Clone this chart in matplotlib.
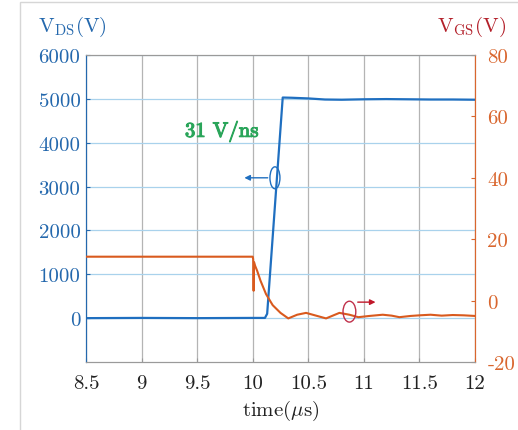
"""Recreate the V_DS / V_GS switching transient figure."""

import matplotlib

matplotlib.use("Agg")
import matplotlib.pyplot as plt
import matplotlib.patheffects as pe
from matplotlib.patches import Ellipse, Rectangle

plt.rcParams["mathtext.fontset"] = "cm"
plt.rcParams["font.family"] = ["cmr10", "DejaVu Serif"]
plt.rcParams["axes.unicode_minus"] = False
plt.rcParams["axes.formatter.use_mathtext"] = True

# V_DS trace (time in us, volts)
t_vds = [8.5, 9.0, 9.5, 10.0, 10.11, 10.13, 10.27, 10.35, 10.5, 10.65, 10.8,
         11.0, 11.2, 11.4, 11.6, 11.8, 12.0]
vds = [0, 5, 0, 5, 5, 100, 5030, 5025, 5010, 4985, 4980,
       4990, 4995, 4990, 4985, 4985, 4980]

# V_GS trace (time in us, volts)
t_vgs = [8.5, 9.0, 9.5, 10.0, 10.004, 10.008, 10.012, 10.02, 10.04, 10.07,
         10.12, 10.18, 10.25, 10.32, 10.4, 10.48, 10.57, 10.66, 10.72, 10.78,
         10.87, 10.95, 11.05, 11.17, 11.25, 11.32, 11.42, 11.5, 11.6, 11.7,
         11.8, 11.9, 12.0]
vgs = [14.3, 14.3, 14.3, 14.3, 13.5, 3.2, 12.5, 11.5, 9.7, 6.5,
       2.1, -1.5, -4.0, -5.8, -4.6, -4.0, -4.9, -5.8, -4.9, -4.0,
       -4.6, -5.4, -5.0, -4.6, -4.9, -5.4, -5.0, -4.8, -4.6, -4.9,
       -4.7, -4.8, -5.0]

x_ticks = [8.5, 9, 9.5, 10, 10.5, 11, 11.5, 12]
x_labels = ["8.5", "9", "9.5", "10", "10.5", "11", "11.5", "12"]
left_ticks = [0, 1000, 2000, 3000, 4000, 5000, 6000]
right_ticks = [-20, 0, 20, 40, 60, 80]

BLUE = "#1f6fc0"
ORANGE = "#d95a1e"
BLUE_TXT = "#2468ad"
ORANGE_TXT = "#d9662e"
DARKRED = "#b3202a"
GREEN = "#2aa55a"

fig = plt.figure(figsize=(5.18, 4.31), dpi=100)
fig.add_artist(Rectangle((20 / 518, -0.05), 1.1, 0.05 + (431 - 3) / 431,
                         transform=fig.transFigure, fill=False,
                         edgecolor="#d6d6d6", lw=1.0))

ax = fig.add_axes([86 / 518, (431 - 363) / 431, 389 / 518, 307 / 431])
ax2 = ax.twinx()

ax.set_xlim(8.5, 12)
ax.set_ylim(-1000, 6000)
ax2.set_ylim(-20, 80)

for x in x_ticks:
    ax.axvline(x, color="#b4b4b4", lw=0.9, zorder=0)
for y in left_ticks:
    ax.axhline(y, color="#a9d2ec", lw=0.9, zorder=0)

ax.plot(t_vds, vds, color=BLUE, lw=1.6, zorder=3)
ax2.plot(t_vgs, vgs, color=ORANGE, lw=1.5, zorder=3)

ax.set_xticks(x_ticks)
ax.set_xticklabels(x_labels)
ax.set_yticks(left_ticks)
ax.set_yticklabels([str(v) for v in left_ticks])
ax2.set_yticks(right_ticks)
ax2.set_yticklabels([str(v) for v in right_ticks])

ax.tick_params(axis="x", direction="in", length=3, pad=9, labelsize=15,
               colors="#222222", color="#999999")
ax.tick_params(axis="y", direction="in", length=3, pad=4, labelsize=15,
               colors=BLUE_TXT, color=BLUE_TXT)
ax2.tick_params(axis="y", direction="in", length=3, pad=9, labelsize=15,
                colors=ORANGE_TXT, color=ORANGE_TXT)

for a in (ax, ax2):
    a.spines["top"].set_color("#9a9a9a")
    a.spines["bottom"].set_color("#9a9a9a")
    a.spines["left"].set_color(BLUE_TXT)
    a.spines["right"].set_color(ORANGE_TXT)

ax.set_xlabel(r"time($\mu$s)", fontsize=15, color="#222222", labelpad=4)

fig.text(72 / 518, 1 - 27 / 431, r"V$_{\mathrm{DS}}$(V)", color=BLUE_TXT,
         fontsize=15, ha="center", va="center")
fig.text(506 / 518, 1 - 27 / 431, r"V$_{\mathrm{GS}}$(V)", color=DARKRED,
         fontsize=15, ha="right", va="center")

# semi-bold look: stroke the regular glyphs in the same colour
ax.text(9.39, 4250, "31 V/ns", color=GREEN, fontsize=15,
        ha="left", va="center",
        path_effects=[pe.withStroke(linewidth=0.8, foreground=GREEN)])

# markers pointing at the axis each trace belongs to
ax.add_patch(Ellipse((10.2, 3200), 0.09, 500, fill=False, edgecolor=BLUE,
                     lw=1.0, zorder=4))
ax.annotate("", xy=(9.9, 3200), xytext=(10.16, 3200),
            arrowprops=dict(arrowstyle="-|>", color=BLUE, lw=1.0,
                            mutation_scale=8))
ax2.add_patch(Ellipse((10.87, -3.6), 0.115, 6.8, fill=False,
                      edgecolor="#c0304a", lw=1.0, zorder=4))
ax2.annotate("", xy=(11.13, -0.5), xytext=(10.92, -0.5),
             arrowprops=dict(arrowstyle="-|>", color="#c0182a", lw=1.0,
                             mutation_scale=8))

fig.savefig("out.png", dpi=100)
